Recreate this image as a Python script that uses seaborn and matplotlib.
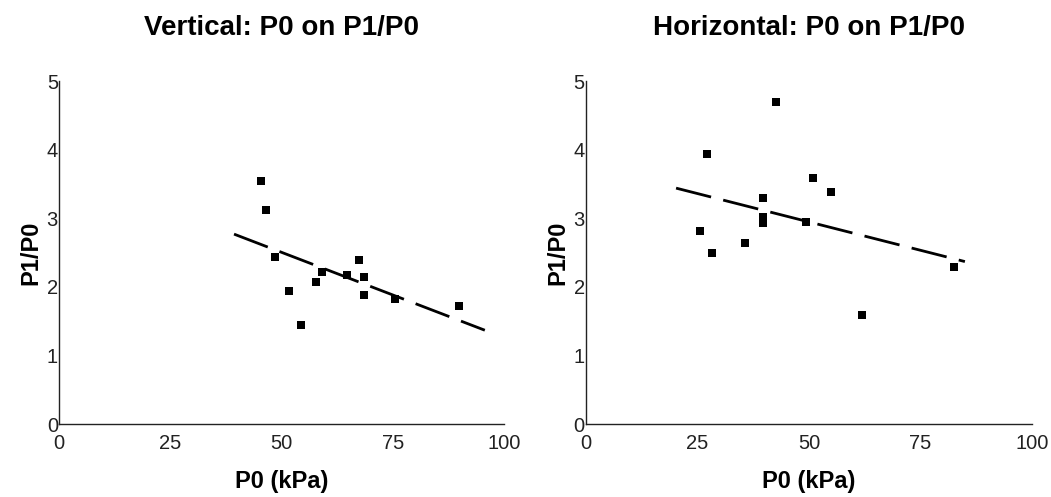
import matplotlib
matplotlib.use("Agg")
import matplotlib.pyplot as plt
import seaborn as sns
import pandas as pd

# ---- data ----
vert_p0 = [45.3, 46.6, 48.6, 51.6, 54.3, 57.7, 59.0, 64.6, 67.3, 68.6, 68.6, 75.6, 89.9]
vert_ratio = [3.54, 3.12, 2.44, 1.94, 1.45, 2.07, 2.22, 2.17, 2.39, 2.15, 1.89, 1.82, 1.72]
vert_fit_x = [39.3, 95.7]
vert_fit_y = [2.77, 1.37]

horiz_p0 = [42.6, 27.1, 50.9, 54.9, 39.6, 39.6, 39.6, 49.3, 25.6, 35.6, 28.3, 82.5, 61.9]
horiz_ratio = [4.69, 3.94, 3.59, 3.39, 3.29, 3.02, 2.93, 2.94, 2.81, 2.64, 2.49, 2.29, 1.59]
horiz_fit_x = [20.2, 85.0]
horiz_fit_y = [3.44, 2.37]

titles = ["Vertical: P0 on P1/P0", "Horizontal: P0 on P1/P0"]
x_label = "P0 (kPa)"
y_label = "P1/P0"
x_ticks = [0, 25, 50, 75, 100]
y_ticks = [0, 1, 2, 3, 4, 5]

sns.set_style("white")
plt.rcParams["font.family"] = ["Liberation Sans", "DejaVu Sans"]
plt.rcParams["text.color"] = "black"
plt.rcParams["axes.labelcolor"] = "black"

fig = plt.figure(figsize=(10.51, 4.97), dpi=100)
ax1 = fig.add_axes([0.0564, 0.1463, 0.4231, 0.6907])
ax2 = fig.add_axes([0.5576, 0.1463, 0.4241, 0.6907])

panels = [
    (ax1, vert_p0, vert_ratio, vert_fit_x, vert_fit_y, titles[0]),
    (ax2, horiz_p0, horiz_ratio, horiz_fit_x, horiz_fit_y, titles[1]),
]

for ax, px, py, fx, fy, title in panels:
    pts = pd.DataFrame({"x": px, "y": py})
    fit = pd.DataFrame({"x": fx, "y": fy})
    sns.lineplot(data=fit, x="x", y="y", ax=ax, color="black", linewidth=2.0,
                 dashes=False)
    ax.lines[-1].set_dashes((13, 4.5))
    sns.scatterplot(data=pts, x="x", y="y", ax=ax, marker="s", s=30,
                    color="black", edgecolor="black", linewidth=0)
    ax.set_xlim(0, 100)
    ax.set_ylim(0, 5)
    ax.set_xticks(x_ticks)
    ax.set_yticks(y_ticks)
    ax.tick_params(direction="in", length=5, width=1, labelsize=14.5,
                   colors="#222222")
    ax.tick_params(axis="x", pad=7)
    ax.tick_params(axis="y", pad=1)
    for s in ["top", "right"]:
        ax.spines[s].set_visible(False)
    for s in ["left", "bottom"]:
        ax.spines[s].set_color("#222222")
        ax.spines[s].set_linewidth(1.0)
    ax.set_xlabel(x_label, fontsize=17, fontweight="bold", labelpad=12,
                  color="black")
    ax.set_ylabel(y_label, fontsize=17, fontweight="bold", labelpad=3,
                  color="black")
    ax.set_title(title, fontsize=20, fontweight="bold", pad=33, color="black")

fig.savefig("out.png", dpi=100, facecolor="white")
